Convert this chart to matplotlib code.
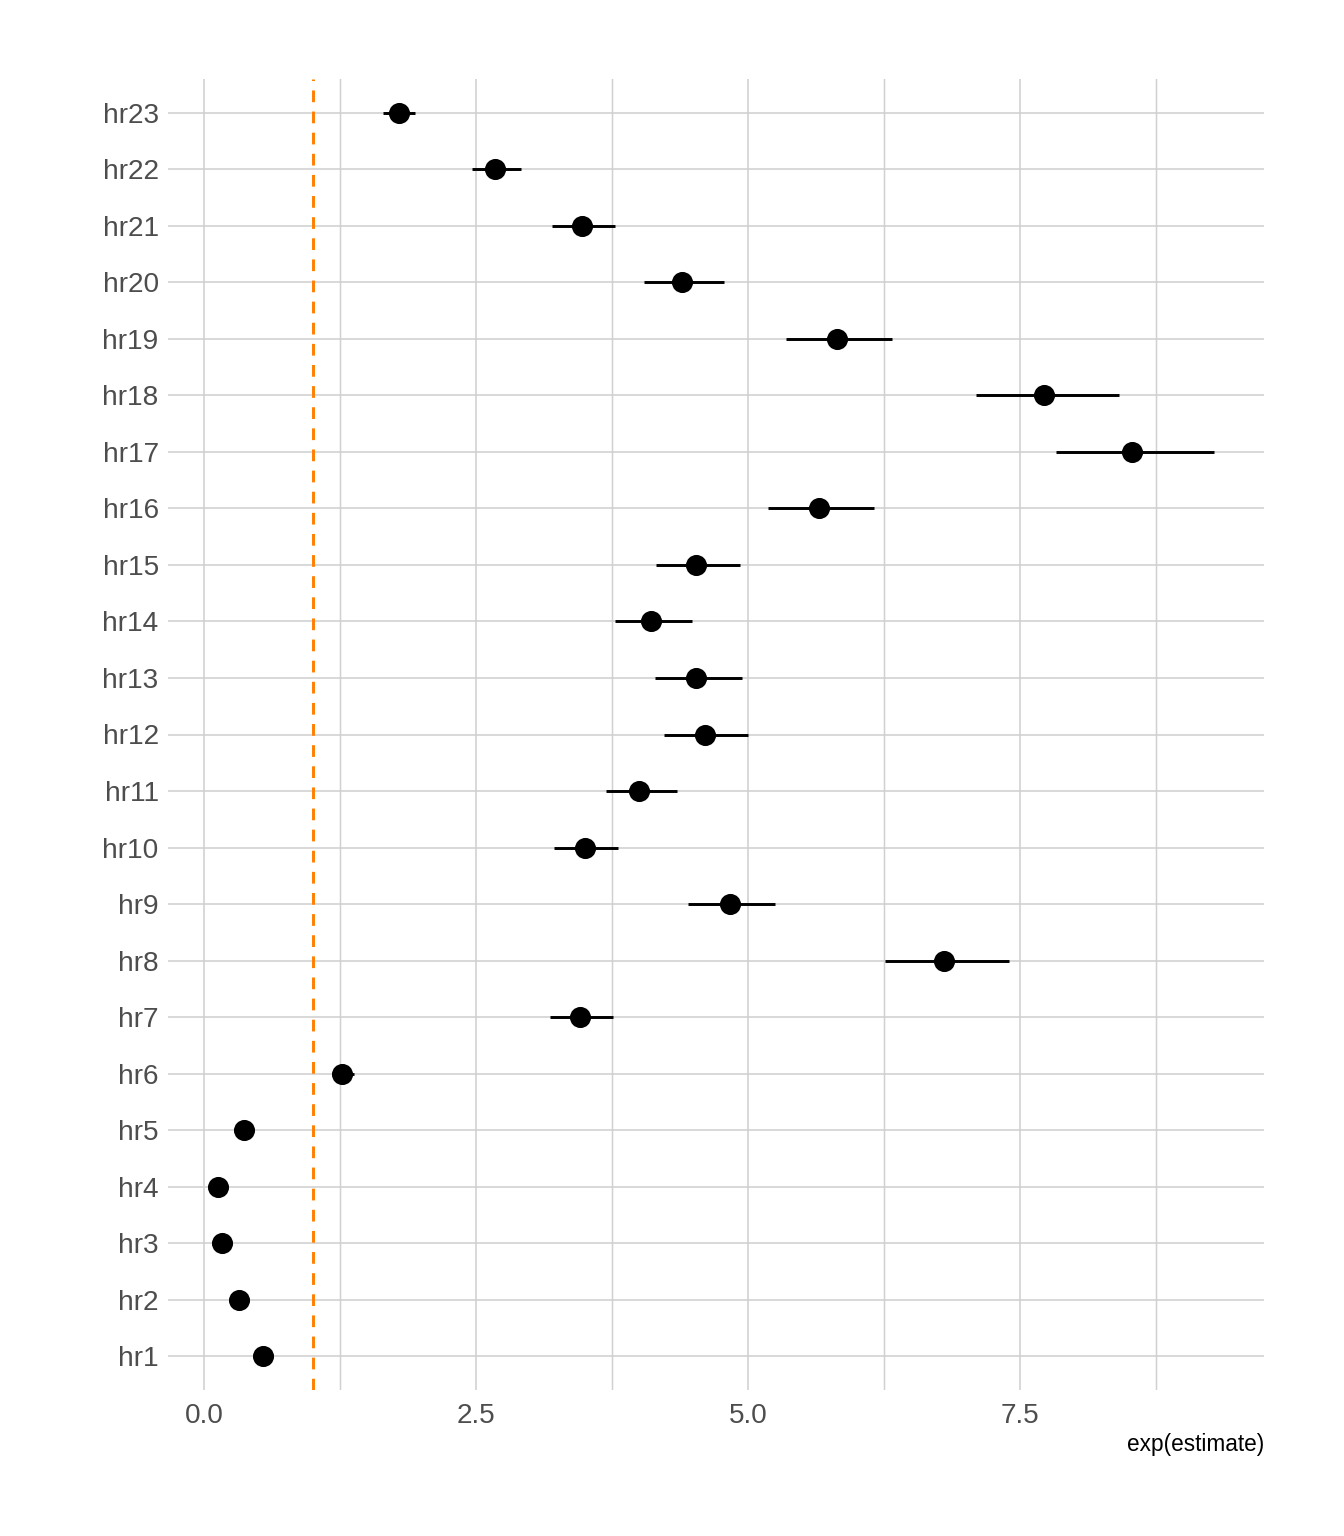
import numpy as np
import matplotlib
matplotlib.use("Agg")
from matplotlib import pyplot as plt
from matplotlib.ticker import FixedLocator

plt.rcParams['font.family'] = ['Liberation Sans Narrow', 'Liberation Sans', 'DejaVu Sans']

# hourly effects, exp(estimate) with confidence limits
terms = ["hr1", "hr2", "hr3", "hr4", "hr5", "hr6", "hr7", "hr8", "hr9", "hr10", "hr11", "hr12",
         "hr13", "hr14", "hr15", "hr16", "hr17", "hr18", "hr19", "hr20", "hr21", "hr22", "hr23"]
estimate = [0.545, 0.32, 0.17, 0.13, 0.37, 1.27, 3.46, 6.80, 4.83, 3.50, 4.00, 4.60,
            4.52, 4.11, 4.52, 5.65, 8.53, 7.72, 5.82, 4.39, 3.47, 2.67, 1.79]
conf_low = [0.50, 0.28, 0.14, 0.128, 0.33, 1.18, 3.18, 6.26, 4.45, 3.22, 3.69, 4.23,
            4.14, 3.78, 4.15, 5.18, 7.83, 7.09, 5.35, 4.04, 3.20, 2.46, 1.645]
conf_high = [0.59, 0.36, 0.20, 0.15, 0.41, 1.38, 3.76, 7.40, 5.25, 3.80, 4.35, 5.00,
             4.94, 4.48, 4.93, 6.16, 9.28, 8.41, 6.32, 4.78, 3.78, 2.91, 1.944]
ref_value = 1.0
x_ticks = [0.0, 2.5, 5.0, 7.5]
x_tick_labels = ["0.0", "2.5", "5.0", "7.5"]
x_minor = [1.25, 3.75, 6.25, 8.75]

fig = plt.figure(figsize=(7, 8), dpi=192)
ax = fig.add_axes([168/1344, 1 - 1390/1536, (1264-168)/1344, (1390-79)/1536])

ypos = np.arange(1, len(terms) + 1)
grid_col = "#d0d0d0"

ax.set_xlim(-0.33, 9.74)
ax.set_ylim(0.4, len(terms) + 0.6)

ax.set_xticks(x_ticks)
ax.set_xticklabels(x_tick_labels)
ax.xaxis.set_minor_locator(FixedLocator(x_minor))
ax.set_yticks(ypos)
ax.set_yticklabels(terms)

ax.grid(True, which='major', color=grid_col, lw=0.6, zorder=0)
ax.grid(True, which='minor', axis='x', color=grid_col, lw=0.55, zorder=0)
ax.set_axisbelow(True)

ax.axvline(ref_value, color="#ff7f00", lw=1.1, dashes=(4, 3.2), zorder=2)

ax.hlines(ypos, conf_low, conf_high, color="black", lw=1.1, zorder=3)
ax.plot(estimate, ypos, 'o', color="black", ms=6.9, zorder=4)

for s in ax.spines.values():
    s.set_visible(False)
ax.tick_params(which='both', length=0)
ax.tick_params(axis='x', labelsize=10.5, labelcolor="#4d4d4d", pad=5)
ax.tick_params(axis='y', labelsize=10.5, labelcolor="#4d4d4d", pad=3.5)

fig.text(1264/1344, 1 - 1444/1536, "exp(estimate)", ha='right', va='center',
         fontsize=8.5, color="black")

fig.savefig("out.png", dpi=192, facecolor="white")
